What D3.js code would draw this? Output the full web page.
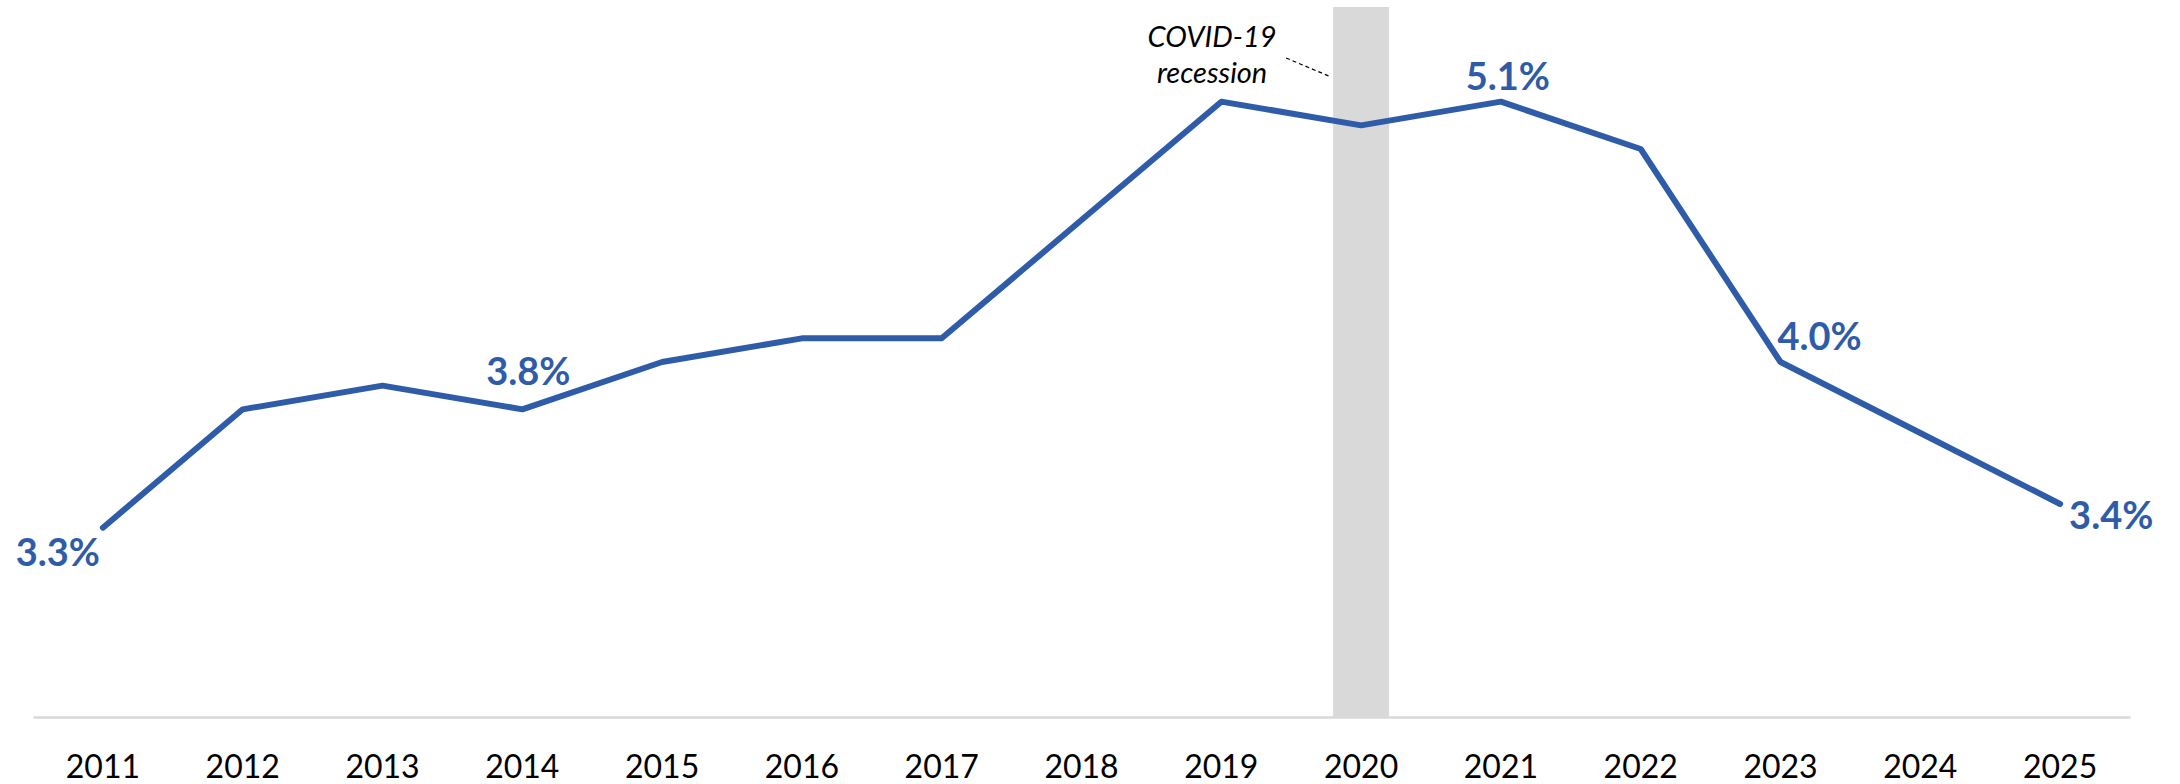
<!DOCTYPE html>
<html>
<head>
<meta charset="utf-8">
<script src="https://cdn.jsdelivr.net/npm/d3@7"></script>
<style>
  html, body { margin: 0; padding: 0; background: #ffffff; }
  svg { display: block; }
</style>
</head>
<body>
<svg id="chart" width="2180" height="784"></svg>
<script>
// ---- data ----
const years = ["2011","2012","2013","2014","2015","2016","2017","2018","2019","2020","2021","2022","2023","2024","2025"];
const rates = [3.3, 3.8, 3.9, 3.8, 4.0, 4.1, 4.1, 4.6, 5.1, 5.0, 5.1, 4.9, 4.0, 3.7, 3.4];
const labeledYears = ["2011","2014","2021","2023","2025"];
const recessionYears = ["2020"];
const annotationLines = ["COVID-19", "recession"];

// ---- layout ----
const W = 2180, H = 784;
const svg = d3.select("#chart");
const blue = "#2f5ca8";
const font = "Lato, 'Open Sans', sans-serif";

const x = d3.scaleBand().domain(years).range([33, 2130]).padding(0);
const y = d3.scaleLinear().domain([2.5, 5.5]).range([717, 7]);
const cx = d => x(d) + x.bandwidth() / 2;

const data = years.map((yr, i) => ({ year: yr, value: rates[i] }));

// recession band
svg.append("g").selectAll("rect").data(recessionYears).join("rect")
  .attr("x", d => cx(d) - x.bandwidth() * 0.2)
  .attr("width", x.bandwidth() * 0.4)
  .attr("y", y(5.5))
  .attr("height", y(2.5) - y(5.5))
  .attr("fill", "#d9d9d9");

// x axis
const axis = svg.append("g")
  .attr("transform", `translate(0,${y(2.5)})`)
  .call(d3.axisBottom(x).tickSize(0).tickSizeOuter(0).tickPadding(38));
axis.select(".domain").attr("stroke", "#d9d9d9").attr("stroke-width", 2.5);
axis.selectAll("text")
  .attr("font-family", font)
  .attr("font-size", 32)
  .attr("fill", "#000000");

// line
const line = d3.line().x(d => cx(d.year)).y(d => y(d.value));
svg.append("path")
  .datum(data)
  .attr("d", line)
  .attr("fill", "none")
  .attr("stroke", blue)
  .attr("stroke-width", 6)
  .attr("stroke-linejoin", "round")
  .attr("stroke-linecap", "round");

// data labels
const placement = {
  "2011": { anchor: "end",    dx: -3, dy: 38 },
  "2014": { anchor: "middle", dx: 6,  dy: -24 },
  "2021": { anchor: "middle", dx: 7,  dy: -12 },
  "2023": { anchor: "start",  dx: -3, dy: -12 },
  "2025": { anchor: "start",  dx: 9,  dy: 25 }
};
svg.append("g").selectAll("text")
  .data(data.filter(d => labeledYears.includes(d.year)))
  .join("text")
  .attr("x", d => cx(d.year) + placement[d.year].dx)
  .attr("y", d => y(d.value) + placement[d.year].dy)
  .attr("text-anchor", d => placement[d.year].anchor)
  .attr("font-family", font)
  .attr("font-weight", "bold")
  .attr("font-size", 38)
  .attr("fill", blue)
  .text(d => d.value.toFixed(1) + "%");

// annotation
const annX = cx("2020") - 149;
svg.append("g").selectAll("text").data(annotationLines).join("text")
  .attr("x", annX)
  .attr("y", (d, i) => 47 + i * 36)
  .attr("text-anchor", "middle")
  .attr("font-family", font)
  .attr("font-style", "italic")
  .attr("font-size", 29)
  .attr("fill", "#000000")
  .text(d => d);

svg.append("line")
  .attr("x1", annX + 74).attr("y1", 58)
  .attr("x2", cx("2020") - 30).attr("y2", 77)
  .attr("stroke", "#000000")
  .attr("stroke-width", 1.2)
  .attr("stroke-dasharray", "4,3");
</script>
</body>
</html>
